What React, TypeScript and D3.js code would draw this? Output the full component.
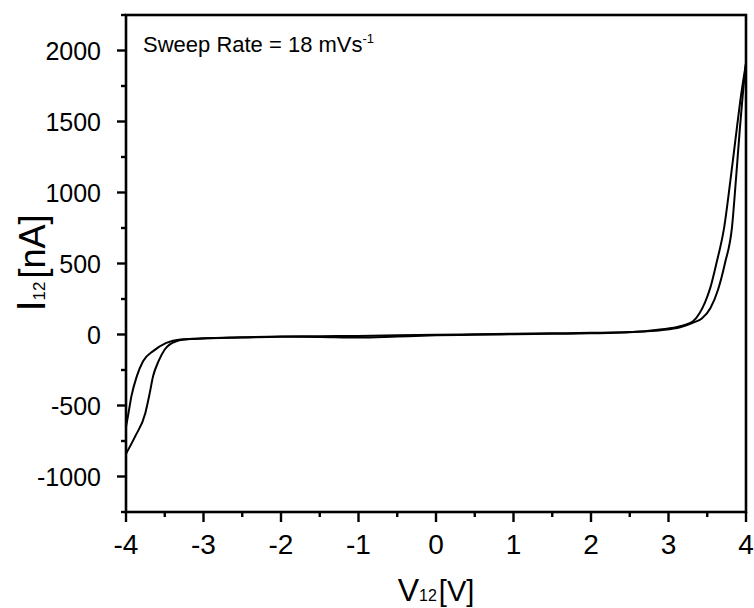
import React from 'react';
import * as d3 from 'd3';

const xTicks = [-4, -3, -2, -1, 0, 1, 2, 3, 4];
const xMinor = [-3.5, -2.5, -1.5, -0.5, 0.5, 1.5, 2.5, 3.5];
const yTicks = [-1000, -500, 0, 500, 1000, 1500, 2000];
const yMinor = [-1250, -750, -250, 250, 750, 1250, 1750, 2250];

// Branch A (inner loop at the left end, inner loop at the right end)
const vA = [-4, -3.88, -3.75, -3.70, -3.65, -3.58, -3.50, -3.35, -3.14, -3.0, -2.5, -2.0, -1.5, -1.0, -0.5, 0, 0.5, 1.0, 1.5, 2.0, 2.5, 2.9, 3.15, 3.32, 3.43, 3.54, 3.64, 3.73, 3.82, 3.87, 3.92, 3.96, 4.0];
const iA = [-840, -716, -552, -430, -293, -188, -106, -47, -30, -27, -20, -14, -12, -10, -6, -2, 2, 5, 8, 12, 18, 30, 50, 84, 112, 185, 317, 505, 760, 1090, 1444, 1700, 1910];

// Branch B (outer loop at the left end, outer loop at the right end)
const vB = [-4, -3.97, -3.93, -3.86, -3.78, -3.65, -3.48, -3.30, -3.0, -2.5, -2.0, -1.5, -1.0, -0.5, 0, 0.5, 1.0, 1.5, 2.0, 2.5, 2.89, 3.15, 3.32, 3.40, 3.47, 3.54, 3.62, 3.72, 3.80, 3.88, 3.94, 4.0];
const iB = [-650, -560, -434, -293, -188, -117, -59, -35, -28, -22, -16, -18, -22, -14, -6, -2, 2, 5, 8, 15, 35, 58, 95, 150, 225, 330, 505, 760, 1090, 1444, 1700, 1910];

const SANS = 'Arial, "Liberation Sans", sans-serif';

export default function App() {
  const W = 754, H = 608;
  const left = 126, right = 746, top = 15, bottom = 512;
  const x = d3.scaleLinear().domain([-4, 4]).range([left, right]);
  const y = d3.scaleLinear().domain([-1250, 2250]).range([bottom, top]);
  const line = d3.line<[number, number]>()
    .x(d => x(d[0]))
    .y(d => y(d[1]))
    .curve(d3.curveMonotoneX);
  const dataA: [number, number][] = vA.map((v, k) => [v, iA[k]]);
  const dataB: [number, number][] = vB.map((v, k) => [v, iB[k]]);

  return (
    <svg width={W} height={H} style={{ position: 'absolute', left: 0, top: 0, background: '#fff' }}>
      <defs>
        <clipPath id="plot">
          <rect x={left} y={top} width={right - left} height={bottom - top} />
        </clipPath>
      </defs>
      <rect x={0} y={0} width={W} height={H} fill="#fff" />
      <g clipPath="url(#plot)" fill="none" stroke="#000" strokeWidth={2} strokeLinejoin="round">
        <path d={line(dataA) || ''} />
        <path d={line(dataB) || ''} />
      </g>
      {/* frame */}
      <rect x={left} y={top} width={right - left} height={bottom - top} fill="none" stroke="#000" strokeWidth={2.6} />
      {/* y ticks */}
      {yTicks.map(t => (
        <g key={'y' + t}>
          <line x1={left - 9} x2={left} y1={y(t)} y2={y(t)} stroke="#000" strokeWidth={2.4} />
          <text x={101} y={y(t) + 9} textAnchor="end" fontFamily={SANS} fontSize={25}>{t}</text>
        </g>
      ))}
      {yMinor.map(t => (
        <line key={'ym' + t} x1={left - 5} x2={left} y1={y(t)} y2={y(t)} stroke="#000" strokeWidth={2.4} />
      ))}
      {/* x ticks */}
      {xTicks.map(t => (
        <g key={'x' + t}>
          <line x1={x(t)} x2={x(t)} y1={bottom} y2={bottom + 10} stroke="#000" strokeWidth={2.4} />
          <text x={x(t)} y={554} textAnchor="middle" fontFamily={SANS} fontSize={28}>{t}</text>
        </g>
      ))}
      {xMinor.map(t => (
        <line key={'xm' + t} x1={x(t)} x2={x(t)} y1={bottom} y2={bottom + 5} stroke="#000" strokeWidth={2.4} />
      ))}
      {/* annotation */}
      <text x={143} y={52} fontFamily={SANS} fontSize={22}>
        Sweep Rate = 18 mVs<tspan fontSize={13} dy={-9}>-1</tspan>
      </text>
      {/* x label */}
      <text x={436} y={601} textAnchor="middle" fontFamily={SANS} fontSize={32}>
        V<tspan fontSize={16}>12</tspan><tspan fontSize={29} dx={2}>[V]</tspan>
      </text>
      {/* y label */}
      <text transform="translate(45,263) rotate(-90)" textAnchor="middle" fontFamily={SANS} fontSize={40}>
        I<tspan fontSize={17}>12</tspan><tspan fontSize={36} dx={3}>[nA]</tspan>
      </text>
    </svg>
  );
}
